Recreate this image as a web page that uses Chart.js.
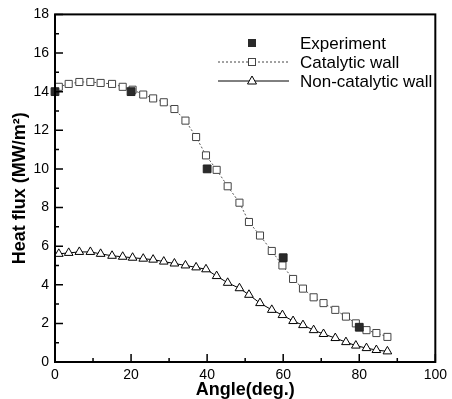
<!DOCTYPE html>
<html>
<head>
<meta charset="utf-8">
<script src="https://cdn.jsdelivr.net/npm/chart.js@4"></script>
<style>
  html, body { margin: 0; padding: 0; background: #fff; }
  #wrap { width: 452px; height: 399px; position: relative; }
</style>
</head>
<body>
<div id="wrap"><canvas id="chart" width="452" height="399"></canvas></div>
<script>
// values
var angles = [1.0, 3.6, 6.4, 9.3, 12.0, 15.0, 17.8, 20.4, 23.2, 25.8, 28.6, 31.4, 34.3, 37.1, 39.7, 42.5,
  45.4, 48.5, 51.0, 53.9, 57.0, 59.8, 62.6, 65.2, 68.0, 70.6, 73.7, 76.5, 79.1, 81.9, 84.5, 87.4];
var catalytic = [14.25, 14.4, 14.5, 14.5, 14.45, 14.4, 14.25, 14.1, 13.85, 13.65, 13.45, 13.1, 12.5, 11.65, 10.7, 9.95,
  9.1, 8.25, 7.25, 6.55, 5.75, 5.0, 4.3, 3.8, 3.35, 3.05, 2.7, 2.35, 2.0, 1.65, 1.5, 1.3];
var nonCatalytic = [5.6, 5.65, 5.7, 5.7, 5.6, 5.5, 5.45, 5.4, 5.35, 5.3, 5.2, 5.1, 5.0, 4.9, 4.8, 4.45,
  4.1, 3.82, 3.48, 3.05, 2.7, 2.43, 2.12, 1.91, 1.65, 1.45, 1.24, 1.03, 0.85, 0.72, 0.62, 0.55];
var expAngles = [0, 20, 40, 60, 80];
var expFlux = [14.0, 14.0, 10.0, 5.4, 1.8];
var legendLabels = ['Experiment', 'Catalytic wall', 'Non-catalytic wall'];

function pts(xs, ys) {
  return xs.map(function (x, i) { return { x: x, y: ys[i] }; });
}

// frame, inward ticks and the legend
var framePlugin = {
  id: 'frame',
  afterDraw: function (chart) {
    var ctx = chart.ctx, a = chart.chartArea;
    var xs = chart.scales.x, ys = chart.scales.y;
    var v, p, len;
    ctx.save();
    ctx.strokeStyle = '#000';
    ctx.lineWidth = 2;
    ctx.strokeRect(a.left, a.top, a.right - a.left, a.bottom - a.top);
    ctx.lineWidth = 1.5;
    ctx.beginPath();
    for (v = 0; v <= 18; v++) {
      p = ys.getPixelForValue(v);
      len = v % 2 ? 4 : 8;
      ctx.moveTo(a.left, p); ctx.lineTo(a.left + len, p);
    }
    for (v = 0; v <= 100; v += 10) {
      p = xs.getPixelForValue(v);
      len = v % 20 ? 4 : 8;
      ctx.moveTo(p, a.bottom); ctx.lineTo(p, a.bottom - len);
    }
    ctx.stroke();

    // legend
    var lx0 = 218, lx1 = 289, mx = 252, tx = 300;
    var rows = [43, 62, 81];
    ctx.font = '17px "Liberation Sans", Arial, sans-serif';
    ctx.fillStyle = '#000';
    ctx.textBaseline = 'middle';
    rows.forEach(function (y, i) {
      ctx.fillText(legendLabels[i], tx, y + 1);
    });
    // experiment marker
    ctx.fillStyle = '#2a2a2a';
    ctx.fillRect(mx - 4, rows[0] - 4, 8, 8);
    // catalytic
    ctx.strokeStyle = '#444';
    ctx.lineWidth = 1;
    ctx.setLineDash([2, 2]);
    ctx.beginPath(); ctx.moveTo(lx0, rows[1]); ctx.lineTo(lx1, rows[1]); ctx.stroke();
    ctx.setLineDash([]);
    ctx.fillStyle = '#fff';
    ctx.fillRect(mx - 3.5, rows[1] - 3.5, 7, 7);
    ctx.strokeRect(mx - 3.5, rows[1] - 3.5, 7, 7);
    // non-catalytic
    ctx.strokeStyle = '#000';
    ctx.beginPath(); ctx.moveTo(lx0, rows[2]); ctx.lineTo(lx1, rows[2]); ctx.stroke();
    ctx.beginPath();
    ctx.moveTo(mx, rows[2] - 5); ctx.lineTo(mx + 4.5, rows[2] + 3); ctx.lineTo(mx - 4.5, rows[2] + 3); ctx.closePath();
    ctx.fill(); ctx.stroke();
    ctx.restore();
  }
};

var tickFont = { family: '"Liberation Sans", Arial, sans-serif', size: 14 };
var titleFont = { family: '"Liberation Sans", Arial, sans-serif', size: 18, weight: 'bold' };

new Chart(document.getElementById('chart').getContext('2d'), {
  type: 'line',
  data: {
    datasets: [
      {
        label: legendLabels[2],
        data: pts(angles, nonCatalytic),
        order: 2,
        borderColor: '#000',
        borderWidth: 1,
        pointStyle: 'triangle',
        pointRadius: 5,
        pointBorderWidth: 1,
        pointBorderColor: '#000',
        pointBackgroundColor: '#fff',
        fill: false,
        tension: 0
      },
      {
        label: legendLabels[1],
        data: pts(angles, catalytic),
        order: 1,
        borderColor: '#555',
        borderWidth: 1,
        borderDash: [2, 2],
        pointStyle: 'rect',
        pointRadius: 5,
        pointBorderWidth: 1,
        pointBorderColor: '#444',
        pointBackgroundColor: '#fff',
        fill: false,
        tension: 0
      },
      {
        label: legendLabels[0],
        data: pts(expAngles, expFlux),
        order: 0,
        showLine: false,
        pointStyle: 'rect',
        pointRadius: 5.5,
        pointBorderWidth: 1,
        pointBorderColor: '#222',
        pointBackgroundColor: '#2a2a2a',
        clip: false
      }
    ]
  },
  options: {
    responsive: false,
    animation: false,
    layout: { padding: { top: 13, right: 11, left: 0, bottom: 0 } },
    plugins: {
      legend: { display: false },
      tooltip: { enabled: false }
    },
    scales: {
      x: {
        type: 'linear',
        min: 0,
        max: 100,
        ticks: { stepSize: 20, color: '#000', font: tickFont, padding: 5, maxRotation: 0 },
        grid: { display: false, drawTicks: false },
        border: { display: false },
        title: { display: true, text: 'Angle(deg.)', color: '#000', font: titleFont, padding: { top: 0, bottom: -2 } },
        afterFit: function (s) { s.height = 37; }
      },
      y: {
        min: 0,
        max: 18,
        ticks: { stepSize: 2, color: '#000', font: tickFont, padding: 6 },
        grid: { display: false, drawTicks: false },
        border: { display: false },
        title: { display: true, text: 'Heat flux (MW/m\u00B2)', color: '#000', font: titleFont, padding: { top: 9, bottom: 0 } },
        afterFit: function (s) { s.width = 55; }
      }
    }
  },
  plugins: [framePlugin]
});
</script>
</body>
</html>
